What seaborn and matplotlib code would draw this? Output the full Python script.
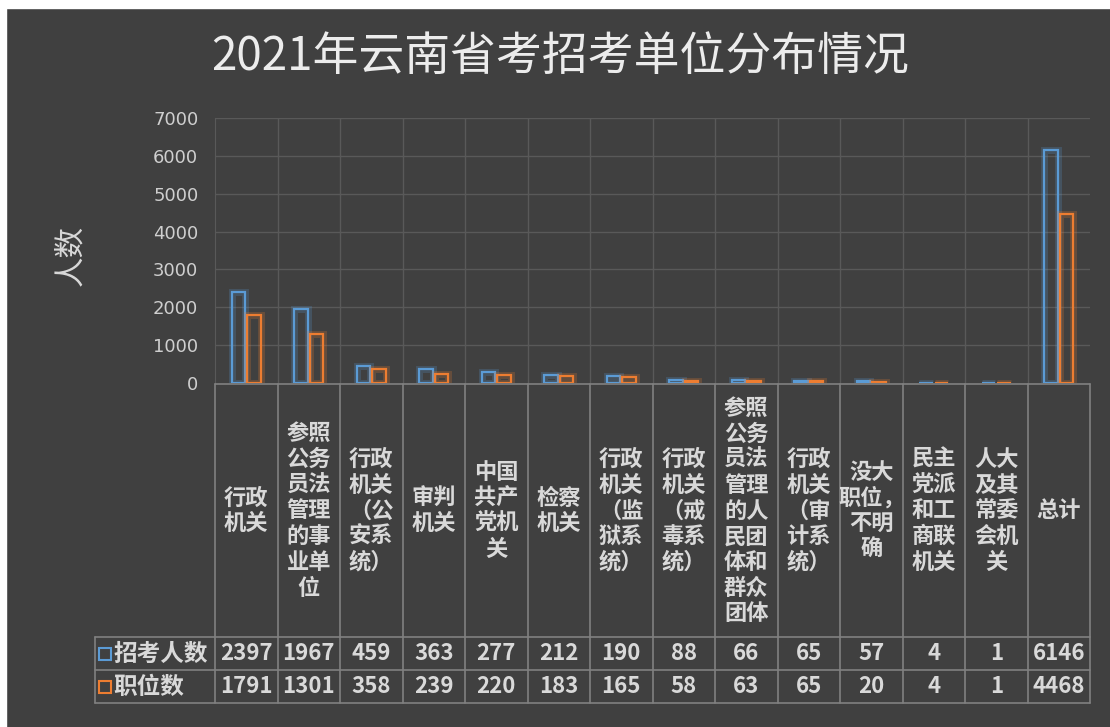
import numpy as np
import pandas as pd
import seaborn as sns
import matplotlib
matplotlib.use('Agg')
import matplotlib.pyplot as plt
import matplotlib.patheffects as pe
from matplotlib.patches import Rectangle

# data
categories = ['行政机关', '参照公务员法管理的事业单位', '行政机关（公安系统）', '审判机关',
              '中国共产党机关', '检察机关', '行政机关（监狱系统）', '行政机关（戒毒系统）',
              '参照公务员法管理的人民团体和群众团体', '行政机关（审计系统）', '没大职位，不明确',
              '民主党派和工商联机关', '人大及其常委会机关', '总计']
applicants = [2397, 1967, 459, 363, 277, 212, 190, 88, 66, 65, 57, 4, 1, 6146]
positions = [1791, 1301, 358, 239, 220, 183, 165, 58, 63, 65, 20, 4, 1, 4468]
series_names = ['招考人数', '职位数']
series_colors = ['#5b9bd5', '#ed7d31']

df = pd.DataFrame({
    'cat': categories * 2,
    'value': applicants + positions,
    'series': [series_names[0]] * len(categories) + [series_names[1]] * len(categories),
})

BG = '#404040'
TXT = '#d9d9d9'
GRID = '#595959'
LINE = '#808080'

sns.set_style('dark')
plt.rcParams['font.family'] = ['Noto Sans CJK SC', 'DejaVu Sans']

fig = plt.figure(figsize=(11.1, 7.27), dpi=100, facecolor=BG)
ax = fig.add_axes([0.1937, 0.4732, 0.7883, 0.3645])
ax.set_facecolor(BG)

sns.barplot(data=df, x='cat', y='value', hue='series', order=categories,
            palette=dict(zip(series_names, series_colors)), fill=False,
            width=0.5, gap=0.15, linewidth=1.6, legend=False, ax=ax, errorbar=None)

# soft glow round the hollow bars
for p in ax.patches:
    c = p.get_edgecolor()
    p.set_path_effects([pe.Stroke(linewidth=5, foreground=c, alpha=0.22), pe.Normal()])

ax.set_ylim(0, 7000)
ax.set_yticks(range(0, 7001, 1000))
ax.set_xlim(-0.5, len(categories) - 0.5)
ax.set_xticks([])
ax.set_xlabel('')
ax.set_ylabel('')
ax.tick_params(axis='y', length=0, labelsize=13, labelcolor='#cfcfcf', pad=12)
for t in ax.get_yticklabels():
    t.set_family('DejaVu Sans')
for y in range(1000, 7001, 1000):
    ax.axhline(y, color=GRID, lw=1, zorder=0)
for i in range(len(categories) - 1):
    ax.axvline(i + 0.5, color=GRID, lw=1, zorder=0)
for s in ['top', 'right', 'bottom']:
    ax.spines[s].set_visible(False)
ax.spines['left'].set_color(GRID)

fig.text(0.064, 0.648, '人数', rotation=90, color=TXT, fontsize=22, ha='center', va='center')
fig.text(0.505, 0.922, '2021年云南省考招考单位分布情况', color='#ececec', fontsize=33,
         ha='center', va='center')

# data table under the plot
tab = fig.add_axes([0.1937, 0.033, 0.7883, 0.4402])
tab.set_xlim(ax.get_xlim())
tab.set_ylim(0, 320)
tab.axis('off')

left = -0.5 - 1.92
right = len(categories) - 0.5
kw = dict(color=LINE, lw=1.2, clip_on=False)
tab.plot([left, right], [0, 0], **kw)
tab.plot([left, right], [33, 33], **kw)
tab.plot([left, right], [66, 66], **kw)
tab.plot([-0.5, right], [319, 319], **kw)
tab.plot([left, left], [0, 66], **kw)
for i in range(len(categories) + 1):
    tab.plot([i - 0.5, i - 0.5], [0, 319], **kw)


def wrap2(s):
    lines, cur = [], ''
    for ch in s:
        if ch != '，' and len(cur.replace('，', '')) >= 2:
            lines.append(cur)
            cur = ''
        cur += ch
    lines.append(cur)
    return '\n'.join(lines)


for i, c in enumerate(categories):
    tab.text(i, 192, wrap2(c), color=TXT, fontsize=16, ha='center', va='center',
             linespacing=1.15, fontweight='bold')
    tab.text(i, 49.5, str(applicants[i]), color=TXT, fontsize=16, ha='center', va='center',
             fontweight='bold')
    tab.text(i, 16.5, str(positions[i]), color=TXT, fontsize=16, ha='center', va='center',
             fontweight='bold')

for yy, name, col in [(49.5, series_names[0], series_colors[0]), (16.5, series_names[1], series_colors[1])]:
    tab.plot([left + 0.16], [yy], marker='s', ms=9, mfc='none', mec=col, mew=1.5, clip_on=False)
    tab.text(left + 0.3, yy, name, color=TXT, fontsize=17, ha='left', va='center',
             fontweight='bold', clip_on=False)

# white strip of the screenshot edge
fig.patches.append(Rectangle((0, 1 - 8 / 727), 1, 8 / 727, transform=fig.transFigure,
                             color='white', zorder=-1))
fig.patches.append(Rectangle((0, 0), 6 / 1110, 1, transform=fig.transFigure,
                             color='white', zorder=-1))

fig.savefig('out.png', dpi=100, facecolor=BG)
